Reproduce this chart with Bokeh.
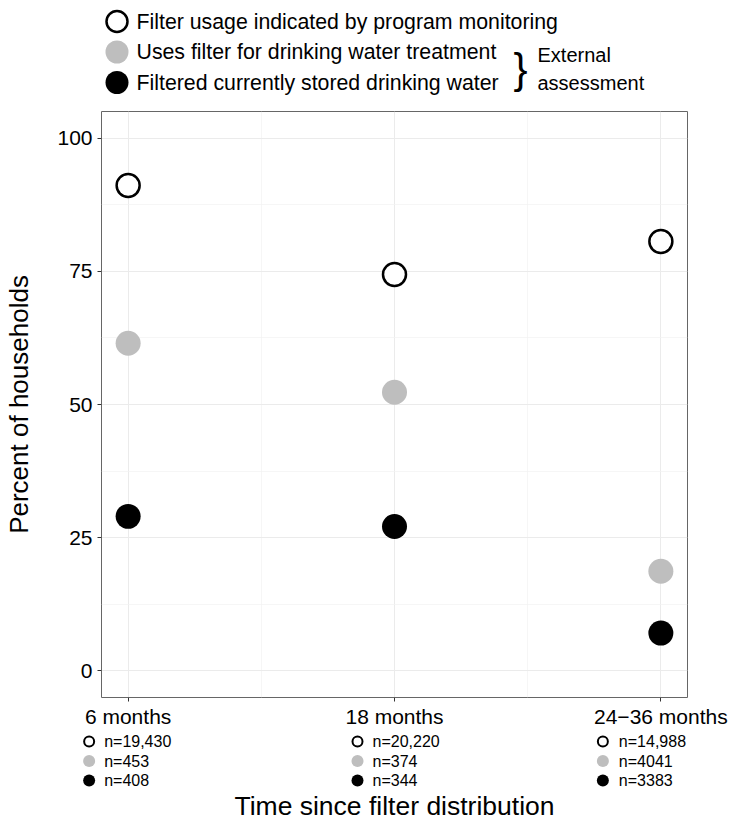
from bokeh.plotting import figure
from bokeh.layouts import column
from bokeh.models import Range1d, FixedTicker
from bokeh.core.properties import value
from bokeh.embed import file_html
from bokeh.resources import INLINE

# ---------------- data ----------------
categories = ["6 months", "18 months", "24\u221236 months"]
monitoring = [91.1, 74.4, 80.6]
uses_filter = [61.5, 52.3, 18.7]
stored_water = [29.0, 27.1, 7.1]
n_monitoring = ["n=19,430", "n=20,220", "n=14,988"]
n_uses = ["n=453", "n=374", "n=4041"]
n_stored = ["n=408", "n=344", "n=3383"]
series_labels = [
    "Filter usage indicated by program monitoring",
    "Uses filter for drinking water treatment",
    "Filtered currently stored drinking water",
]
y_ticks = [0, 25, 50, 75, 100]
x_title = "Time since filter distribution"
y_title = "Percent of households"
brace_label = ["External", "assessment"]

# ---------------- style ----------------
FONT = "Liberation Sans"
W = 735
TOP_H, BOT_H = 111, 91
LB, BB = 101, 33
FRAME = 586
RB = W - LB - FRAME
GRAY = "#bebebe"

x = list(range(1, len(categories) + 1))
xr = Range1d(x[0] - 0.1, x[-1] + 0.1)
yr = Range1d(-5, 105)

# ---------------- top legend ----------------
top = figure(width=W, height=TOP_H, x_range=Range1d(0, W), y_range=Range1d(TOP_H, 0),
             x_axis_type=None, y_axis_type=None, output_backend="svg",
             toolbar_location=None, min_border=0, frame_align=False)
top.grid.visible = False
top.outline_line_color = None
rows_y = [21 + 30.5 * i for i in range(len(series_labels))]
top.scatter([116.5], [rows_y[0]], size=21, fill_color="white", line_color="black", line_width=2.5)
top.scatter([116.5], [rows_y[1]], size=23, fill_color=GRAY, line_color=None)
top.scatter([116.5], [rows_y[2]], size=23, fill_color="black", line_color=None)
top.text(x=[136] * len(series_labels), y=rows_y, text=series_labels,
         text_font=value(FONT), text_font_size="21.3px", text_baseline="middle",
         text_align="left", text_color="black")
top.text(x=[520], y=[(rows_y[1] + rows_y[2]) / 2 + 1], text=["}"],
         text_font=value(FONT), text_font_size="42px", text_baseline="middle",
         text_align="center", text_color="black")
top.text(x=[537, 537], y=[rows_y[1] + 3, rows_y[2]], text=brace_label,
         text_font=value(FONT), text_font_size="20px", text_baseline="middle",
         text_align="left", text_color="black")

# ---------------- main plot ----------------
p = figure(width=W, height=FRAME + BB, x_range=xr, y_range=yr,
           output_backend="svg", toolbar_location=None,
           min_border_left=LB, min_border_right=RB, min_border_top=0,
           min_border_bottom=BB, frame_align=False)
p.outline_line_color = "#666666"
p.outline_line_width = 1

xt = FixedTicker(ticks=x, minor_ticks=[(a + b) / 2 for a, b in zip(x[:-1], x[1:])])
yt = FixedTicker(ticks=y_ticks,
                 minor_ticks=[(a + b) / 2 for a, b in zip(y_ticks[:-1], y_ticks[1:])])
p.xaxis.ticker = xt
p.yaxis.ticker = yt
p.xgrid.ticker = xt
p.ygrid.ticker = yt
p.xaxis.major_label_overrides = {xi: c for xi, c in zip(x, categories)}

for ax in (p.xaxis, p.yaxis):
    ax.axis_line_color = None
    ax.minor_tick_line_color = None
    ax.major_tick_in = 0
    ax.major_tick_out = 4
    ax.major_tick_line_color = "#333333"
    ax.major_label_text_font = FONT
    ax.major_label_text_font_size = "21px"
    ax.major_label_text_color = "black"
p.xaxis.major_label_standoff = 3
p.yaxis.major_label_standoff = 5
p.yaxis.axis_label = y_title
p.yaxis.axis_label_text_font = FONT
p.yaxis.axis_label_text_font_size = "26px"
p.yaxis.axis_label_text_font_style = "normal"
p.yaxis.axis_label_text_color = "black"
p.yaxis.axis_label_standoff = 20

for g in (p.xgrid, p.ygrid):
    g.grid_line_color = "#ebebeb"
    g.grid_line_width = 1
    g.minor_grid_line_color = "#f2f2f2"
    g.minor_grid_line_width = 0.7

p.scatter(x, monitoring, size=23, fill_color="white", line_color="black", line_width=2.5)
p.scatter(x, uses_filter, size=25, fill_color=GRAY, line_color=None)
p.scatter(x, stored_water, size=25, fill_color="black", line_color=None)

# ---------------- bottom: sample sizes + x title ----------------
ppu = FRAME / (xr.end - xr.start)
bxr = Range1d(xr.start - LB / ppu, xr.end + RB / ppu)
bot = figure(width=W, height=BOT_H, x_range=bxr, y_range=Range1d(BOT_H, 0),
             x_axis_type=None, y_axis_type=None, output_backend="svg",
             toolbar_location=None, min_border=0, frame_align=False)
bot.grid.visible = False
bot.outline_line_color = None

marker_dx = [-39, -37, -58]
text_dx = [-24, -22, -42]
n_rows = [n_monitoring, n_uses, n_stored]
row_y = [11 + 19.5 * i for i in range(len(n_rows))]
mx = [xi + d / ppu for xi, d in zip(x, marker_dx)]
tx = [xi + d / ppu for xi, d in zip(x, text_dx)]
bot.scatter(mx, [row_y[0]] * len(x), size=10, fill_color="white", line_color="black", line_width=2)
bot.scatter(mx, [row_y[1]] * len(x), size=12, fill_color=GRAY, line_color=None)
bot.scatter(mx, [row_y[2]] * len(x), size=12, fill_color="black", line_color=None)
for labels, ry in zip(n_rows, row_y):
    bot.text(x=tx, y=[ry] * len(x), text=labels, text_font=value(FONT),
             text_font_size="16px", text_baseline="middle", text_align="left",
             text_color="black")
bot.text(x=[(xr.start + xr.end) / 2], y=[75], text=[x_title], text_font=value(FONT),
         text_font_size="26.5px", text_baseline="middle", text_align="center",
         text_color="black")

layout = column(top, p, bot, spacing=0)
open("out.html", "w").write(file_html(layout, INLINE))
